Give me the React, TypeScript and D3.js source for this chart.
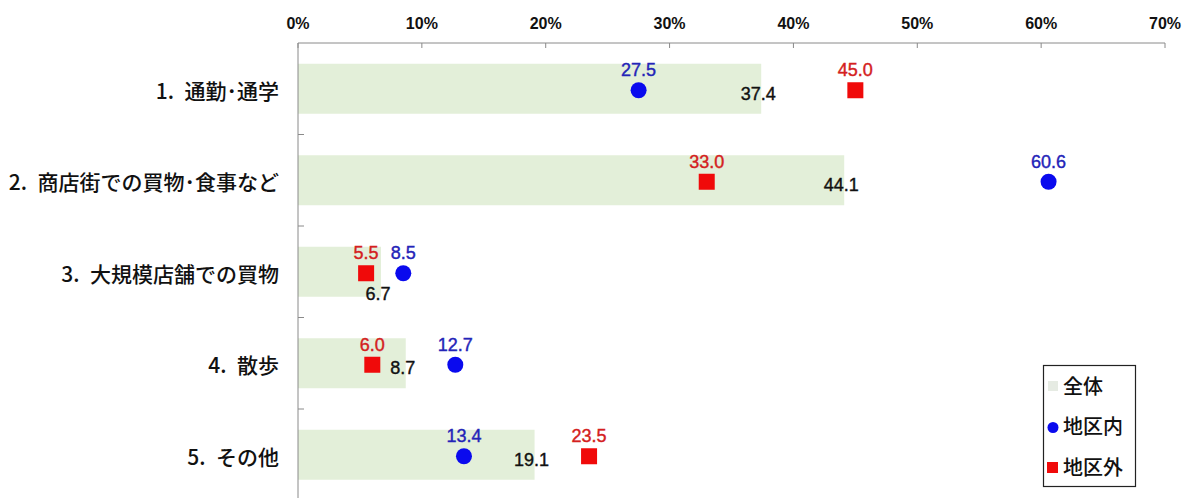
import React from "react";
import * as d3 from "d3";

const categories = [
  "1.\u2002通勤･通学",
  "2.\u2002商店街での買物･食事など",
  "3.\u2002大規模店舗での買物",
  "4.\u2002散歩",
  "5.\u2002その他",
];
const totalValues = [37.4, 44.1, 6.7, 8.7, 19.1];
const insideValues = [27.5, 60.6, 8.5, 12.7, 13.4];
const outsideValues = [45.0, 33.0, 5.5, 6.0, 23.5];
const xTicks = [0, 10, 20, 30, 40, 50, 60, 70];
const legendLabels = ["全体", "地区内", "地区外"];

const W = 1191;
const H = 498;
const BAR_FILL = "#e3efd9";
const BLUE = "#0a0aee";
const RED = "#f00a0a";
const BLUE_TEXT = "#2424b8";
const RED_TEXT = "#d42020";
const NUM_FONT = "'Liberation Sans', Arial, sans-serif";
const JP_FONT = "'Noto Sans CJK JP', sans-serif";

export default function App() {
  const x = d3.scaleLinear().domain([0, 70]).range([298, 1165]);
  const y = d3.scaleBand<string>().domain(categories).range([43, 500.5]);
  const bw = y.bandwidth();
  const barH = 50;

  return (
    <svg
      width={W}
      height={H}
      style={{ position: "absolute", left: 0, top: 0, background: "#fff" }}
    >
      {/* bars */}
      {categories.map((c, i) => {
        const cy = (y(c) as number) + bw / 2;
        return (
          <rect
            key={"bar" + i}
            x={x(0)}
            y={cy - barH / 2}
            width={x(totalValues[i]) - x(0)}
            height={barH}
            fill={BAR_FILL}
          />
        );
      })}

      {/* top axis */}
      <line x1={x(0)} x2={x(70)} y1={43} y2={43} stroke="#8a8a8a" strokeWidth={1} />
      {xTicks.map((t) => (
        <g key={"xt" + t}>
          <line x1={x(t)} x2={x(t)} y1={43} y2={48} stroke="#8a8a8a" />
          <text
            x={x(t)}
            y={29}
            textAnchor="middle"
            fontFamily={NUM_FONT}
            fontWeight="bold"
            fontSize={16}
            fill="#111"
          >
            {t}%
          </text>
        </g>
      ))}

      {/* left axis */}
      <line x1={x(0)} x2={x(0)} y1={43} y2={H} stroke="#8a8a8a" strokeWidth={1} />
      {categories.slice(1).map((c, i) => (
        <line
          key={"yt" + i}
          x1={x(0)}
          x2={x(0) + 6}
          y1={y(c) as number}
          y2={y(c) as number}
          stroke="#8a8a8a"
        />
      ))}

      {/* category labels */}
      {categories.map((c, i) => {
        const cy = (y(c) as number) + bw / 2;
        return (
          <text
            key={"cl" + i}
            x={279}
            y={cy + 10}
            textAnchor="end"
            fontFamily={JP_FONT}
            fontSize={21}
            fontWeight={500}
            fill="#111"
          >
            {c}
          </text>
        );
      })}

      {/* total value labels */}
      {categories.map((c, i) => {
        const cy = (y(c) as number) + bw / 2;
        const endX = x(totalValues[i]);
        const crowded = [insideValues[i], outsideValues[i]].some(
          (v) => Math.abs(x(v) - endX) < 25
        );
        return (
          <text
            key={"tl" + i}
            x={endX - 3}
            y={crowded ? cy + 28 : cy + 11}
            textAnchor="middle"
            fontFamily={NUM_FONT}
            fontSize={18}
            fill="#111"
            stroke="#111"
            strokeWidth={0.4}
          >
            {totalValues[i].toFixed(1)}
          </text>
        );
      })}

      {/* inside markers */}
      {categories.map((c, i) => {
        const cy = (y(c) as number) + bw / 2 + 1.5;
        const px = x(insideValues[i]);
        return (
          <g key={"in" + i}>
            <circle cx={px} cy={cy} r={8} fill={BLUE} />
            <text
              x={px}
              y={cy - 14}
              textAnchor="middle"
              fontFamily={NUM_FONT}
              fontSize={18}
              fill={BLUE_TEXT}
              stroke={BLUE_TEXT}
              strokeWidth={0.4}
            >
              {insideValues[i].toFixed(1)}
            </text>
          </g>
        );
      })}

      {/* outside markers */}
      {categories.map((c, i) => {
        const cy = (y(c) as number) + bw / 2 + 1.5;
        const px = x(outsideValues[i]);
        return (
          <g key={"out" + i}>
            <rect x={px - 8} y={cy - 8} width={16} height={16} fill={RED} />
            <text
              x={px}
              y={cy - 14}
              textAnchor="middle"
              fontFamily={NUM_FONT}
              fontSize={18}
              fill={RED_TEXT}
              stroke={RED_TEXT}
              strokeWidth={0.4}
            >
              {outsideValues[i].toFixed(1)}
            </text>
          </g>
        );
      })}

      {/* legend */}
      <g>
        <rect x={1043.5} y={365.5} width={92} height={121} fill="#fff" stroke="#222" strokeWidth={1.2} />
        {legendLabels.map((l, i) => {
          const ly = 386 + i * 40.5;
          return (
            <g key={"lg" + i}>
              {i === 0 && <rect x={1048} y={ly - 5} width={10} height={10} fill="#e6ebe3" />}
              {i === 1 && <circle cx={1053} cy={ly + 1} r={5.5} fill={BLUE} />}
              {i === 2 && <rect x={1047} y={ly - 5} width={11} height={11} fill={RED} />}
              <text
                x={1063}
                y={ly + 7.5}
                fontFamily={JP_FONT}
                fontSize={20}
                fontWeight={500}
                fill="#111"
              >
                {l}
              </text>
            </g>
          );
        })}
      </g>
    </svg>
  );
}
